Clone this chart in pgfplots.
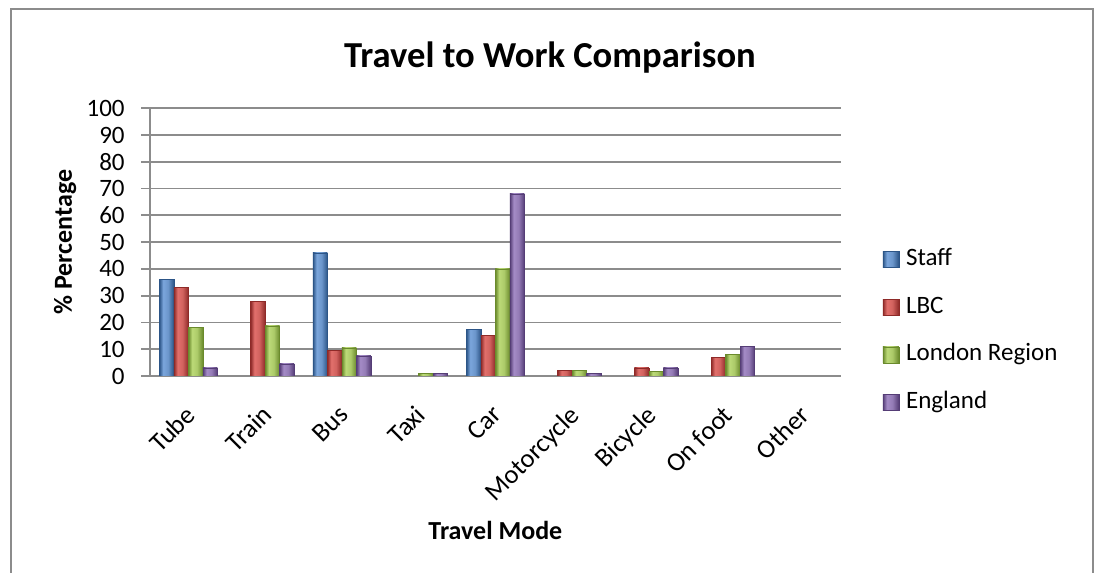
\documentclass[border=0pt]{standalone}
\usepackage{pgfplots}
\pgfplotsset{compat=1.18}
\usepackage{fontspec}
\setmainfont{Carlito}

% series colours (dark edge / highlight)
\definecolor{staffdark}{HTML}{2C5587}
\definecolor{stafflight}{HTML}{7BA6DC}
\definecolor{lbcdark}{HTML}{8E2A28}
\definecolor{lbclight}{HTML}{E2706C}
\definecolor{londark}{HTML}{6A8A2C}
\definecolor{lonlight}{HTML}{BCDA78}
\definecolor{engdark}{HTML}{553D76}
\definecolor{englight}{HTML}{A48BC6}
\definecolor{gridgray}{HTML}{8C8C8C}

% cylinder-like horizontal shadings for the bars
\pgfdeclarehorizontalshading{staffshade}{100bp}{color(0bp)=(staffdark); color(25bp)=(staffdark); color(38bp)=(stafflight); color(55bp)=(stafflight!80!staffdark); color(75bp)=(staffdark); color(100bp)=(staffdark)}
\pgfdeclarehorizontalshading{lbcshade}{100bp}{color(0bp)=(lbcdark); color(25bp)=(lbcdark); color(38bp)=(lbclight); color(55bp)=(lbclight!80!lbcdark); color(75bp)=(lbcdark); color(100bp)=(lbcdark)}
\pgfdeclarehorizontalshading{lonshade}{100bp}{color(0bp)=(londark); color(25bp)=(londark); color(38bp)=(lonlight); color(55bp)=(lonlight!80!londark); color(75bp)=(londark); color(100bp)=(londark)}
\pgfdeclarehorizontalshading{engshade}{100bp}{color(0bp)=(engdark); color(25bp)=(engdark); color(38bp)=(englight); color(55bp)=(englight!80!engdark); color(75bp)=(engdark); color(100bp)=(engdark)}

% one style per series; each bar is its own plot so that it gets its own shading
\pgfplotsset{
  barbase/.style={ybar, bar width=7.25pt, line width=0.3pt, forget plot},
  staffbar/.style={barbase, bar shift=-10.875pt, shading=staffshade, draw=staffdark},
  lbcbar/.style={barbase, bar shift=-3.625pt, shading=lbcshade, draw=lbcdark},
  lonbar/.style={barbase, bar shift=3.625pt, shading=lonshade, draw=londark},
  engbar/.style={barbase, bar shift=10.875pt, shading=engshade, draw=engdark},
}

\begin{document}
\begin{tikzpicture}
\useasboundingbox (0,0) rectangle (547.5pt,286pt);
% chart frame
\draw[gridgray, line width=0.9pt] (5.5pt,-10pt) -- (5.5pt,281.5pt) -- (546.5pt,281.5pt) -- (546.5pt,-10pt);
% title
\node[font=\fontsize{18.3}{21}\selectfont\bfseries] at (275pt,257pt) {Travel to Work Comparison};

\begin{axis}[
  at={(75pt,98pt)}, anchor=south west,
  scale only axis, width=345.4pt, height=133.9pt,
  xmin=-0.5, xmax=8.5, ymin=0, ymax=100,
  ytick={0,10,...,100},
  xtick={0,...,8},
  xticklabels={Tube,Train,Bus,Taxi,Car,Motorcycle,Bicycle,On foot,Other},
  x tick style={draw=none},
  extra x ticks={-0.5,0.5,...,8.5},
  extra x tick labels={},
  extra x tick style={grid=none, tick style={draw=gridgray, line width=0.9pt}, major tick length=4.5pt, tick align=outside},
  y tick style={draw=gridgray, line width=0.9pt},
  major tick length=4.5pt, tick align=outside,
  axis x line*=bottom, axis y line*=left,
  axis line style={draw=gridgray, line width=0.9pt, -},
  ymajorgrids, major grid style={draw=gridgray, line width=0.9pt},
  tick label style={font=\fontsize{12.5}{15}\selectfont},
  /pgf/number format/assume math mode=true,
  yticklabel style={inner sep=0pt, xshift=-8pt},
  xticklabel style={font=\fontsize{13.2}{15}\selectfont, rotate=45, anchor=north east, inner sep=0pt, xshift=-8pt, yshift=-5pt},
  xlabel={Travel Mode}, ylabel={\% Percentage},
  label style={font=\fontsize{13}{15}\selectfont\bfseries},
  xlabel style={at={(axis description cs:0.5,-0.575)}, anchor=center},
  ylabel style={at={(axis description cs:-0.123,0.5)}, anchor=center},
  legend style={at={(1.0598,0.168)}, anchor=west, draw=none, fill=none, inner sep=0pt,
    font=\fontsize{12.5}{15}\selectfont, row sep=11.85pt,
    nodes={inner sep=0pt, text height=9pt, text depth=3pt},
    /tikz/every odd column/.append style={column sep=3.5pt}},
  legend cell align=left,
  legend image code/.code={\path[#1] (0pt,-4pt) rectangle (8pt,4pt);},
]
% Staff
\addplot[staffbar] coordinates {(0,36)};
\addplot[staffbar] coordinates {(2,46)};
\addplot[staffbar] coordinates {(4,17.5)};
% LBC
\addplot[lbcbar] coordinates {(0,33)};
\addplot[lbcbar] coordinates {(1,28)};
\addplot[lbcbar] coordinates {(2,9.5)};
\addplot[lbcbar] coordinates {(4,15.3)};
\addplot[lbcbar] coordinates {(5,2)};
\addplot[lbcbar] coordinates {(6,3)};
\addplot[lbcbar] coordinates {(7,7)};
% London Region
\addplot[lonbar] coordinates {(0,18)};
\addplot[lonbar] coordinates {(1,18.7)};
\addplot[lonbar] coordinates {(2,10.5)};
\addplot[lonbar] coordinates {(3,1)};
\addplot[lonbar] coordinates {(4,40)};
\addplot[lonbar] coordinates {(5,2)};
\addplot[lonbar] coordinates {(6,1.8)};
\addplot[lonbar] coordinates {(7,8)};
% England
\addplot[engbar] coordinates {(0,3)};
\addplot[engbar] coordinates {(1,4.5)};
\addplot[engbar] coordinates {(2,7.5)};
\addplot[engbar] coordinates {(3,1)};
\addplot[engbar] coordinates {(4,68)};
\addplot[engbar] coordinates {(5,1)};
\addplot[engbar] coordinates {(6,3)};
\addplot[engbar] coordinates {(7,11)};

\addlegendimage{shading=staffshade, draw=staffdark, line width=0.3pt}
\addlegendentry{Staff}
\addlegendimage{shading=lbcshade, draw=lbcdark, line width=0.3pt}
\addlegendentry{LBC}
\addlegendimage{shading=lonshade, draw=londark, line width=0.3pt}
\addlegendentry{London Region}
\addlegendimage{shading=engshade, draw=engdark, line width=0.3pt}
\addlegendentry{England}
\end{axis}
\end{tikzpicture}
\end{document}
